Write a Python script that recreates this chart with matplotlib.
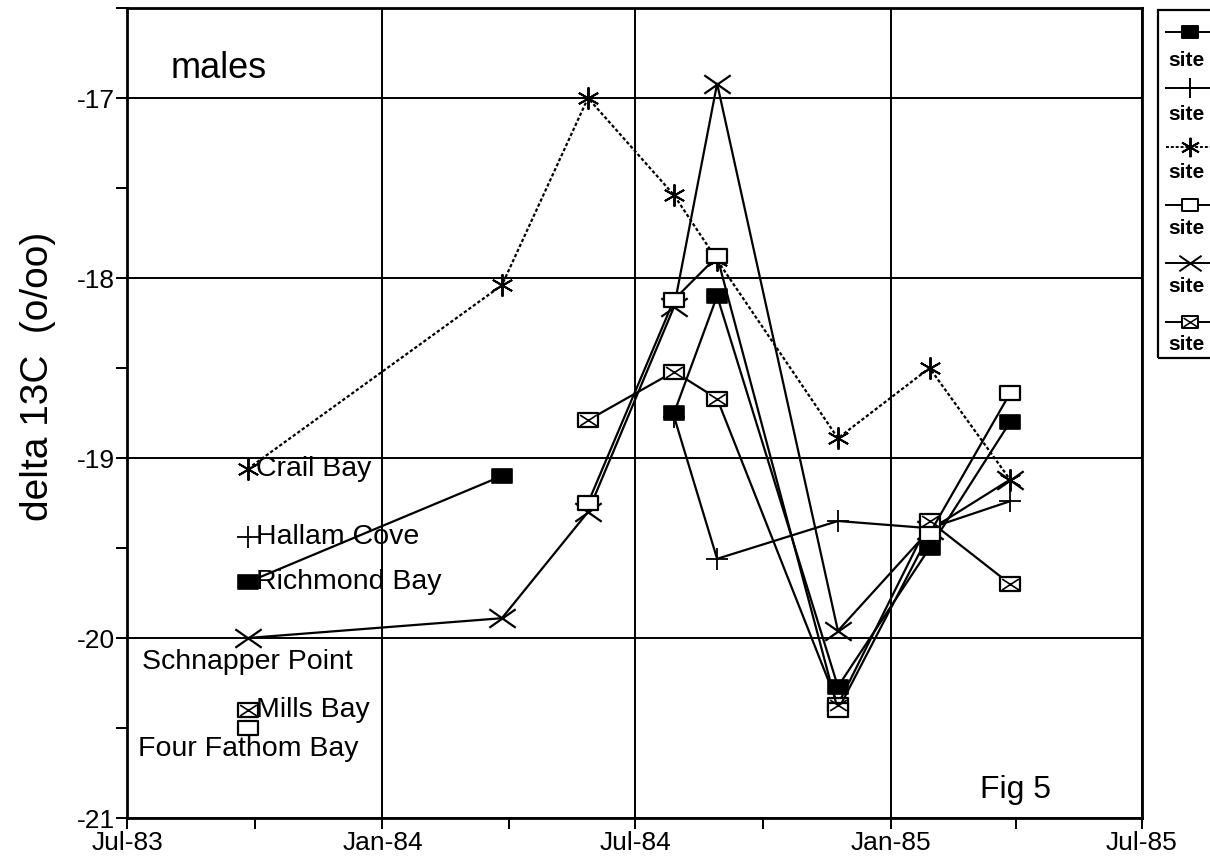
import numpy as np
import matplotlib
matplotlib.use("Agg")
import matplotlib.pyplot as plt
import matplotlib.dates as mdates
from matplotlib.path import Path
from matplotlib.lines import Line2D
from matplotlib.patches import Rectangle
import datetime as dt

plt.rcParams['font.family'] = ['Liberation Sans', 'DejaVu Sans']

# ---- data ----
dates = ['1983-09-26', '1984-03-27', '1984-05-28', '1984-07-29',
         '1984-08-29', '1984-11-24', '1985-01-29', '1985-03-28']
nan = np.nan
crail_bay = [-19.06, -18.04, -17.0, -17.54, -17.9, -18.89, -18.5, -19.12]
hallam_cove = [-19.44, nan, nan, -18.77, -19.56, -19.35, -19.39, -19.24]
richmond_bay = [-19.69, -19.1, nan, -18.75, -18.1, -20.27, -19.5, -18.8]
schnapper_point = [-20.0, -19.89, -19.3, -18.16, -16.92, -19.96, -19.4, -19.12]
mills_bay = [-20.4, nan, -18.79, -18.52, -18.67, -20.37, -19.35, -19.7]
four_fathom_bay = [-20.5, nan, -19.25, -18.12, -17.88, -20.4, -19.42, -18.64]
legend_labels = ['site', 'site', 'site', 'site', 'site', 'site']
x_tick_dates = ['1983-07-01', '1984-01-01', '1984-07-01', '1985-01-01', '1985-07-01']
y_ticks = [-21, -20, -19, -18, -17]

xd = [dt.datetime.strptime(s, '%Y-%m-%d') for s in dates]

# ---- custom markers ----
rect = Path([(-1, -0.7), (1, -0.7), (1, 0.7), (-1, 0.7), (-1, -0.7)],
            [Path.MOVETO, Path.LINETO, Path.LINETO, Path.LINETO, Path.CLOSEPOLY])
xmark = Path([(-1, -0.7), (1, 0.7), (-1, 0.7), (1, -0.7)],
             [Path.MOVETO, Path.LINETO, Path.MOVETO, Path.LINETO])
xsmall = Path([(-0.85, -0.55), (0.85, 0.55), (-0.85, 0.55), (0.85, -0.55)],
              [Path.MOVETO, Path.LINETO, Path.MOVETO, Path.LINETO])
asterisk = (6, 2, 0)

fig = plt.figure(figsize=(12.1, 8.61), dpi=100)
ax = fig.add_axes([127/1210, 1 - 818/861, (1142-127)/1210, (818-8)/861])

lw = 1.6
ms = 14
# Crail Bay - dotted with asterisks
ax.plot(xd, crail_bay, color='black', lw=1.6, ls=(0, (1.5, 1.0)),
        marker=asterisk, ms=16, mew=1.4, zorder=3)
# Hallam Cove - plus
ax.plot(xd, hallam_cove, color='black', lw=lw, marker='+', ms=16, mew=1.3, zorder=3)
# Richmond Bay - filled rect
ax.plot(xd, richmond_bay, color='black', lw=lw, marker=rect, ms=ms,
        mfc='black', mec='black', mew=1.2, zorder=4)
# Schnapper Point - X
ax.plot(xd, schnapper_point, color='black', lw=lw, marker=xmark, ms=19,
        mfc='none', mec='black', mew=1.6, zorder=3)
# Mills Bay - crossed rect
ax.plot(xd, mills_bay, color='black', lw=lw, marker=rect, ms=ms,
        mfc='white', mec='black', mew=1.6, zorder=4)
ax.plot(xd, mills_bay, ls='none', marker=xsmall, ms=ms - 2,
        mfc='none', mec='black', mew=1.2, zorder=5)
# Four Fathom Bay - open rect
ax.plot(xd, four_fathom_bay, color='black', lw=lw, marker=rect, ms=ms,
        mfc='white', mec='black', mew=1.6, zorder=4)

# series labels at first point
lab_kw = dict(fontsize=20.5, color='black', textcoords='offset points', zorder=6)
ax.annotate('Crail Bay', (xd[0], crail_bay[0]), xytext=(6, 0), ha='left', va='center', **lab_kw)
ax.annotate('Hallam Cove', (xd[0], hallam_cove[0]), xytext=(6, 0), ha='left', va='center', **lab_kw)
ax.annotate('Richmond Bay', (xd[0], richmond_bay[0]), xytext=(6, 0), ha='left', va='center', **lab_kw)
ax.annotate('Schnapper Point', (xd[0], schnapper_point[0]), xytext=(0, -17), ha='center', va='center', **lab_kw)
ax.annotate('Mills Bay', (xd[0], mills_bay[0]), xytext=(6, 0), ha='left', va='center', **lab_kw)
ax.annotate('Four Fathom Bay', (xd[0], four_fathom_bay[0]), xytext=(0, -15), ha='center', va='center', **lab_kw)

# axes
ax.set_ylim(-21, -16.5)
xt = [dt.datetime.strptime(s, '%Y-%m-%d') for s in x_tick_dates]
ax.set_xlim(xt[0], xt[-1])
ax.set_xticks(xt)
ax.xaxis.set_major_formatter(mdates.DateFormatter('%b-%y'))
ax.xaxis.set_minor_locator(mdates.MonthLocator(bymonth=[4, 10]))
ax.set_yticks(y_ticks)
ax.set_yticks(np.arange(-20.5, -16.4, 1.0), minor=True)
ax.yaxis.set_major_formatter(matplotlib.ticker.FuncFormatter(lambda v, p: '%d' % v))
ax.grid(True, which='major', color='black', lw=1.4)
ax.tick_params(axis='both', which='both', direction='out', length=8, width=1.4,
               labelsize=19, colors='black')
ax.tick_params(axis='x', pad=1)
ax.tick_params(axis='y', pad=1)
for s in ax.spines.values():
    s.set_linewidth(2)
    s.set_color('black')

fig.text(38/1210, 1 - 376/861, 'delta 13C  (o/oo)', fontsize=28, rotation=90,
         ha='center', va='center')

ax.text(0.09, 0.925, 'males', transform=ax.transAxes, fontsize=26, ha='center', va='center')
ax.text(0.875, 0.035, 'Fig 5', transform=ax.transAxes, fontsize=23, ha='center', va='center')

# legend (drawn manually, entries stacked: sample line above text)
W, H = 1210, 861
fig.patches.append(Rectangle((1158/W, 1 - 358/H), 80/W, 348/H, transform=fig.transFigure,
                             fill=False, ec='black', lw=1.6))
leg_styles = [
    dict(marker=rect, mfc='black', ms=12, ls='-'),
    dict(marker='+', ms=15, ls='-'),
    dict(marker=asterisk, ms=14, ls=(0, (1.5, 1.0))),
    dict(marker=rect, mfc='white', ms=12, ls='-'),
    dict(marker=xmark, mfc='none', ms=16, ls='-'),
    dict(marker=rect, mfc='white', ms=12, ls='-'),
]
sample_y = [32, 88, 147, 205, 263, 322]
text_y = [60, 115, 172, 229, 287, 345]
xs = [1166/W, 1190/W, 1214/W]
for i, st in enumerate(leg_styles):
    y = 1 - sample_y[i] / H
    fig.add_artist(Line2D(xs, [y, y, y], transform=fig.transFigure,
                          color='black', lw=1.4, mec='black', mew=1.4,
                          markevery=[1], **st))
    if i == 5:
        fig.add_artist(Line2D(xs, [y, y, y], transform=fig.transFigure,
                              ls='none', marker=xsmall, ms=10, mec='black', mew=1.1,
                              markevery=[1]))
    fig.text(1168/W, 1 - text_y[i] / H, legend_labels[i], fontsize=15, fontweight='bold',
             ha='left', va='center')

fig.savefig('out.png', dpi=100)
